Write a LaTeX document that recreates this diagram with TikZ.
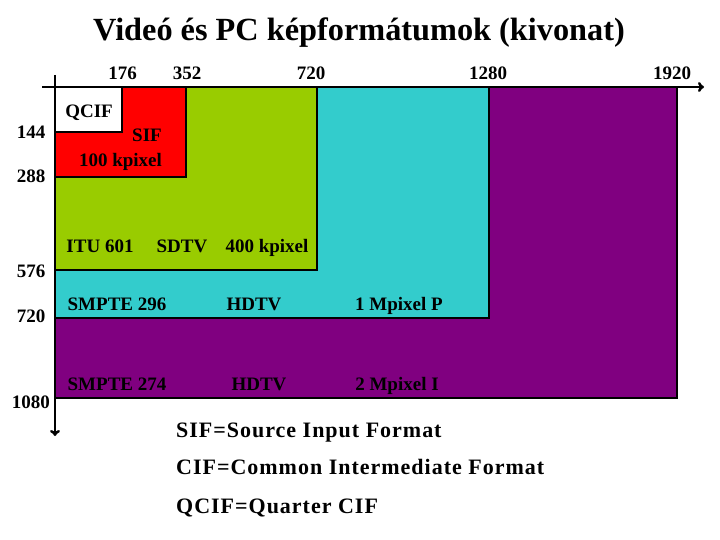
\documentclass[tikz,border=0pt]{standalone}
\usepackage{fontspec}
\setmainfont{Liberation Serif}
\newfontfamily\legfont[LetterSpace=4.5]{Liberation Serif}
\usetikzlibrary{arrows.meta}
\begin{document}
\begin{tikzpicture}[x=1pt,y=-1pt,
  lbl/.style={font=\bfseries\fontsize{19}{22}\selectfont,inner sep=0pt,anchor=base},
  ttl/.style={font=\bfseries\fontsize{32.3}{36}\selectfont,inner sep=0pt,anchor=base},
  leg/.style={font=\legfont\bfseries\fontsize{22}{26}\selectfont,inner sep=0pt,anchor=base west},
  fmt/.style={draw=black,line width=2.5pt},
  axis/.style={draw=black,line width=2.5pt,-{To[length=6pt,width=10pt]}}]
\useasboundingbox (0,0) rectangle (720,540);
\definecolor{purp}{RGB}{128,0,128}
\definecolor{cyn}{RGB}{51,204,204}
\definecolor{grn}{RGB}{153,204,0}
% format rectangles
\path[fmt,fill=purp] (55,87) rectangle (677,398);
\path[fmt,fill=cyn] (55,87) rectangle (489,318);
\path[fmt,fill=grn] (55,87) rectangle (317,270);
\path[fmt,fill=red] (55,87) rectangle (186,177);
\path[fmt,fill=white] (55,87) rectangle (122,132);
% axes
\coordinate (hs) at (42,87);
\coordinate (he) at (704,87);
\coordinate (vs) at (55,75);
\coordinate (ve) at (55,436);
\draw[axis] (hs) -- (he);
\draw[axis] (vs) -- (ve);
% title
\node[ttl] (title) at (359,41) {Videó és PC képformátumok (kivonat)};
% top labels
\node[lbl] (x176) at (122.5,80) {176};
\node[lbl] (x352) at (187,80) {352};
\node[lbl] (x720) at (311,80) {720};
\node[lbl] (x1280) at (488,80) {1280};
\node[lbl] (x1920) at (672,80) {1920};
% left labels
\node[lbl] (y144) at (31,139) {144};
\node[lbl] (y288) at (31,183) {288};
\node[lbl] (y576) at (31,277) {576};
\node[lbl] (y720) at (31,322) {720};
\node[lbl] (y1080) at (31,408) {1080};
% inner labels
\node[lbl] (qcif) at (89,118) {QCIF};
\node[lbl] (sif) at (147,142) {SIF};
\node[lbl] (sifk) at (120.5,167) {100 kpixel};
\node[lbl] (itu) at (100,252) {ITU 601};
\node[lbl] (sdtv) at (182,252) {SDTV};
\node[lbl] (itk) at (267,252) {400 kpixel};
\node[lbl] (s296) at (117,310) {SMPTE 296};
\node[lbl] (hd1) at (254,310) {HDTV};
\node[lbl] (m1) at (399,310) {1 Mpixel P};
\node[lbl] (s274) at (117,390) {SMPTE 274};
\node[lbl] (hd2) at (259,390) {HDTV};
\node[lbl] (m2) at (397,390) {2 Mpixel I};
% legend
\node[leg] (l1) at (176,437) {SIF=Source Input Format};
\node[leg] (l2) at (176,474) {CIF=Common Intermediate Format};
\node[leg] (l3) at (176,513) {QCIF=Quarter CIF};
\end{tikzpicture}
\end{document}
